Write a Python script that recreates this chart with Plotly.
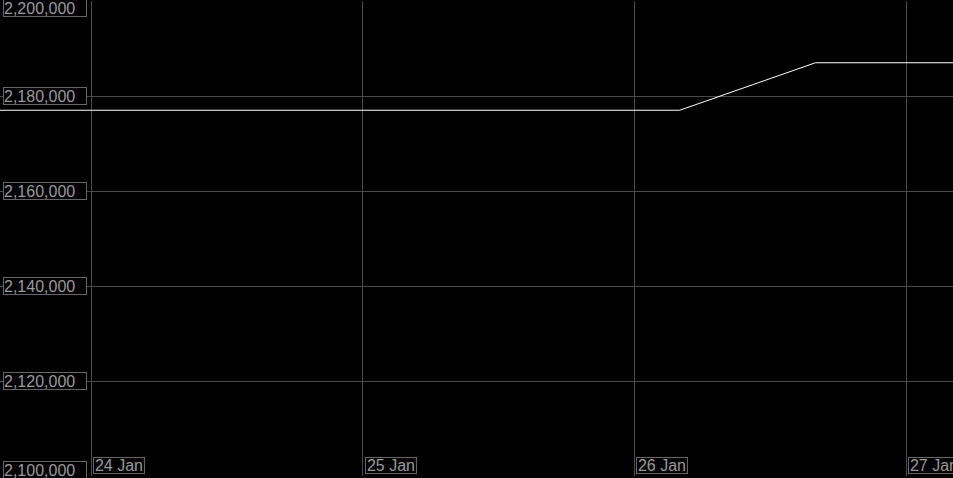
import plotly.graph_objects as go

# data
times = ["2024-01-23 00:00", "2024-01-24 00:00", "2024-01-25 00:00", "2024-01-26 04:00",
         "2024-01-26 16:00", "2024-01-27 00:00", "2024-01-27 12:00"]
values = [2177000, 2177000, 2177000, 2177000, 2187000, 2187000, 2187000]

y_ticks = [2100000, 2120000, 2140000, 2160000, 2180000, 2200000]
y_labels = ["2,100,000", "2,120,000", "2,140,000", "2,160,000", "2,180,000", "2,200,000"]
x_ticks = ["2024-01-24", "2024-01-25", "2024-01-26", "2024-01-27"]
x_labels = ["24 Jan", "25 Jan", "26 Jan", "27 Jan"]

x_range = ["2024-01-23 15:57", "2024-01-27 04:09"]
y_range = [2100000, 2200000]

TEXT = "#9a9a9a"
BORDER = "#666666"
GRID = "#4a4a4a"
FONT = dict(family="Liberation Sans, Arial, sans-serif", size=16, color=TEXT)

fig = go.Figure()
fig.add_trace(go.Scatter(x=times, y=values, mode="lines",
                         line=dict(color="#ffffff", width=1), hoverinfo="skip"))

annotations = []
for v, lab in zip(y_ticks, y_labels):
    shift = 0
    if v == y_range[1]:
        shift = -7
    elif v == y_range[0]:
        shift = 6
    annotations.append(dict(
        x=0, xref="paper", xanchor="left", xshift=3,
        y=v, yref="y", yanchor="middle", yshift=shift,
        text=lab, showarrow=False, font=FONT, align="left",
        width=82, height=16, bordercolor=BORDER, borderwidth=1,
        borderpad=0, bgcolor="#000000"))
for v, lab in zip(x_ticks, x_labels):
    annotations.append(dict(
        x=v, xref="x", xanchor="left", xshift=2,
        y=0, yref="paper", yanchor="bottom", yshift=2,
        text=lab, showarrow=False, font=FONT, align="center",
        width=50, height=15, bordercolor=BORDER, borderwidth=1,
        borderpad=0, bgcolor="#000000"))

fig.update_layout(
    width=953, height=478,
    margin=dict(l=0, r=0, t=1, b=2, pad=0),
    paper_bgcolor="#000000", plot_bgcolor="#000000",
    showlegend=False,
    xaxis=dict(type="date", range=x_range, tickvals=x_ticks, showticklabels=False,
               showgrid=True, gridcolor=GRID, gridwidth=1, zeroline=False,
               showline=False, ticks=""),
    yaxis=dict(range=y_range, tickvals=y_ticks, showticklabels=False,
               showgrid=True, gridcolor=GRID, gridwidth=1, zeroline=False,
               showline=False, ticks=""),
    annotations=annotations,
)

fig.write_html("out.html", config={"displayModeBar": False},
               post_script="document.body.style.margin='0';document.body.style.background='#000';")
